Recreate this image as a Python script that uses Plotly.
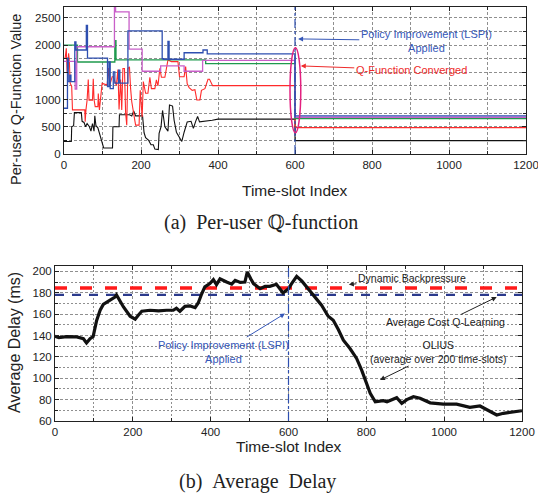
import plotly.graph_objects as go

W, H = 538, 497

# ---------------- Data: (a) Per-user Q-function ----------------
blue_x = [0, 9, 11, 15, 18, 28, 31, 58, 61, 113, 117, 120, 128, 132, 142, 145, 166, 255, 258, 270, 273, 312, 361, 372, 600, 1200]
blue_y = [840, 1760, 1330, 1450, 1330, 2060, 1910, 2360, 1760, 1240, 1690, 1200, 1510, 1300, 1540, 1300, 2260, 1750, 1740, 2070, 1740, 1860, 1910, 1840, 700, 700]

magenta_x = [0, 29, 33, 131, 134, 169, 203, 251, 312, 360, 600, 1200]
magenta_y = [1700, 1190, 1970, 2700, 2610, 1925, 1520, 1620, 1520, 1720, 675, 675]

green_x = [0, 35, 132, 135, 368, 600, 1200]
green_y = [2000, 1690, 2080, 1730, 1660, 650, 650]

black_x = [0, 19, 20, 25, 27, 45, 47, 52, 56, 60, 66, 70, 74, 78, 80, 83, 88, 92, 96, 100, 103, 126, 127, 143, 144, 170, 176, 181,
           186, 204, 208, 212, 220, 226, 232, 236, 245, 247, 252, 256, 262, 270, 274, 282, 286, 292, 300, 306, 312, 320, 330, 336,
           342, 347, 352, 372, 385, 400, 600, 600, 1200]
black_y = [230, 230, 500, 520, 760, 760, 600, 580, 500, 560, 500, 420, 560, 420, 700, 520, 480, 380, 250, 180, 110, 110, 500, 500,
           720, 720, 700, 790, 700, 700, 390, 300, 250, 170, 170, 90, 80, 380, 500, 800, 500, 420, 900, 880, 620, 400, 300, 230,
           400, 590, 600, 470, 600, 690, 590, 600, 620, 640, 640, 245, 245]

red_x = [0, 3, 6, 8, 10, 12, 14, 16, 20, 22, 54, 55, 57, 60, 63, 65, 74, 76, 78, 80, 81, 88, 89, 92, 99, 112, 116, 119, 125,
         128, 134, 136, 140, 143, 147, 150, 153, 157, 160, 163, 166, 170, 173, 176, 182, 186, 195, 198, 203, 206, 212, 218,
         223, 227, 236, 240, 244, 249, 253, 262, 270, 279, 296, 300, 312, 316, 320, 325, 333, 340, 345, 353, 357, 366, 374,
         378, 386, 600, 600, 1200]
red_y = [1760, 1760, 1940, 1510, 1560, 1850, 1700, 1300, 1240, 810, 810, 594, 810, 990, 1370, 990, 990, 1380, 1000, 870, 870,
         870, 1110, 810, 1300, 1265, 1580, 1265, 1420, 1420, 1260, 1260, 1550, 820, 1370, 810, 1570, 1570, 760, 530, 1570, 1600,
         1200, 960, 700, 530, 530, 1170, 680, 1330, 1115, 1115, 1410, 1200, 1200, 1360, 1250, 1575, 1410, 1410, 1728, 1697,
         1697, 1420, 1420, 1605, 1290, 1220, 1170, 1180, 993, 993, 1170, 1200, 1373, 1373, 1256, 1256, 484, 484]

# ---------------- Data: (b) Average delay ----------------
olius_x = [0, 10, 30, 56, 73, 81, 90, 98, 107, 116, 124, 133, 141, 154, 158, 163, 176, 193, 206, 214, 223, 244, 266, 287, 304,
           312, 321, 334, 347, 360, 368, 377, 385, 398, 407, 415, 424, 441, 454, 463, 476, 488, 494, 503, 510, 527, 540, 552,
           569, 586, 600, 608, 621, 634, 647, 664, 685, 702, 715, 728, 741, 758, 775, 788, 801, 810, 823, 844, 853, 878, 891,
           904, 921, 938, 964, 998, 1032, 1066, 1092, 1118, 1135, 1152, 1178, 1200]
olius_y = [139.3, 138, 139, 138.7, 137, 133, 137, 139, 154, 163.6, 169, 171, 173, 176, 178, 174.5, 166.7, 158, 155.2, 159,
           162.7, 163.6, 163, 163.6, 163.6, 165.5, 162.7, 167.3, 167.6, 166, 170.4, 179, 185.4, 188.5, 192.2, 187.6, 193,
           190, 188, 191.6, 189.6, 190, 199.4, 193, 188.5, 183.8, 186, 186, 187.9, 179.8, 183.8, 188.5, 195.3, 191, 185.4,
           177.6, 168.3, 158, 154.3, 145.6, 135.6, 127.8, 118.5, 107.6, 95.2, 85.8, 78, 79, 78, 81.8, 76.5, 80, 82.7, 81.3,
           77, 75.8, 75.8, 72.7, 74, 68.7, 65.6, 67.2, 68.7, 69.6]
backpressure_value = 184.5
qlearning_value = 178
lspi_time = 600
x_span = [0, 1200]

FONT = "Liberation Sans, Arial, sans-serif"
SERIF = "Liberation Serif, DejaVu Serif, Times New Roman, serif"
NB = "\u00a0"

fig = go.Figure()

def px_x(p):
    return p / W

def px_y(p):
    return 1 - p / H

# top traces
fig.add_trace(go.Scatter(x=black_x, y=black_y, mode="lines", line=dict(color="#111111", width=1.1), xaxis="x", yaxis="y"))
fig.add_trace(go.Scatter(x=red_x, y=red_y, mode="lines", line=dict(color="#ff2b2b", width=1.1), xaxis="x", yaxis="y"))
fig.add_trace(go.Scatter(x=green_x, y=green_y, mode="lines", line=dict(color="#1f9a4e", width=1.3, shape="hv"), xaxis="x", yaxis="y"))
fig.add_trace(go.Scatter(x=magenta_x, y=magenta_y, mode="lines", line=dict(color="#c95fc9", width=1.3, shape="hv"), xaxis="x", yaxis="y"))
fig.add_trace(go.Scatter(x=blue_x, y=blue_y, mode="lines", line=dict(color="#2e4fb0", width=1.3, shape="hv"), xaxis="x", yaxis="y"))

# bottom traces
fig.add_trace(go.Scatter(x=x_span, y=[backpressure_value] * 2, mode="lines",
                         line=dict(color="#ff1a1a", width=3.5, dash="12px,13px"), xaxis="x2", yaxis="y2"))
fig.add_trace(go.Scatter(x=x_span, y=[qlearning_value] * 2, mode="lines",
                         line=dict(color="#2b3a8c", width=2.2, dash="9px,8px"), xaxis="x2", yaxis="y2"))
fig.add_trace(go.Scatter(x=olius_x, y=olius_y, mode="lines", line=dict(color="#111111", width=3.2), xaxis="x2", yaxis="y2"))

# vertical LSPI lines
fig.add_shape(type="line", xref="x", yref="paper", x0=lspi_time, x1=lspi_time, y0=px_y(154), y1=px_y(7),
              line=dict(color="#2e4fb0", width=1.2, dash="dashdot"))
fig.add_shape(type="line", xref="x2", yref="paper", x0=lspi_time, x1=lspi_time, y0=px_y(421), y1=px_y(266),
              line=dict(color="#2e4fb0", width=1.2, dash="dashdot"))
# ellipse
fig.add_shape(type="circle", xref="x", yref="y", x0=587, x1=615, y0=390, y1=1950,
              line=dict(color="#e3207f", width=1.5))

axis_common = dict(showline=True, linecolor="#222222", linewidth=1, mirror="ticks", ticks="inside", ticklen=4,
                   tickcolor="#222222", showgrid=True, gridcolor="#8f8f8f", griddash="3px,2px", gridwidth=0.7,
                   zeroline=False, automargin=False, ticklabeloverflow="allow",
                   tickfont=dict(family=FONT, size=11.5, color="#222222"))

fig.update_layout(
    width=W, height=H, margin=dict(l=0, r=0, t=0, b=0, autoexpand=False), showlegend=False,
    paper_bgcolor="white", plot_bgcolor="white",
    xaxis=dict(domain=[px_x(64), px_x(526)], range=[0, 1200], dtick=200, anchor="y",
               minor=dict(dtick=100, showgrid=True, gridcolor="#8f8f8f", griddash="3px,2px", gridwidth=0.7,
                          ticks="inside", ticklen=3, tickcolor="#222222"), **axis_common),
    yaxis=dict(domain=[px_y(154), px_y(7)], range=[0, 2700], dtick=500, anchor="x",
               minor=dict(dtick=250, showgrid=True, gridcolor="#8f8f8f", griddash="3px,2px", gridwidth=0.7,
                          ticks="inside", ticklen=3, tickcolor="#222222"), **axis_common),
    xaxis2=dict(domain=[px_x(55), px_x(522)], range=[0, 1200], dtick=200, anchor="y2",
                minor=dict(dtick=100, showgrid=True, gridcolor="#8f8f8f", griddash="2px,2px", gridwidth=0.7,
                           ticks="inside", ticklen=3, tickcolor="#222222"), **axis_common),
    yaxis2=dict(domain=[px_y(421), px_y(266)], range=[60, 205], dtick=20, anchor="x2",
                minor=dict(dtick=10, showgrid=True, gridcolor="#8f8f8f", griddash="2px,2px", gridwidth=0.7,
                           ticks="inside", ticklen=3, tickcolor="#222222"), **axis_common),
)

ann = []
# axis titles
ann.append(dict(text="Per-user Q-Function Value", x=px_x(16), y=px_y(100), textangle=-90,
                font=dict(family=FONT, size=14.5, color="#222222")))
ann.append(dict(text="Time-slot Index", x=px_x(295), y=px_y(190),
                font=dict(family=FONT, size=15.5, color="#222222")))
ann.append(dict(text="Average Delay (ms)", x=px_x(14), y=px_y(343), textangle=-90,
                font=dict(family=FONT, size=16, color="#222222")))
ann.append(dict(text="Time-slot Index", x=px_x(289), y=px_y(446),
                font=dict(family=FONT, size=15.5, color="#222222")))
# captions
ann.append(dict(text="(a)" + NB + NB + "Per-user \u211a-function", x=px_x(261), y=px_y(223),
                font=dict(family=SERIF, size=20, color="#222222")))
ann.append(dict(text="(b)" + NB + NB + "Average" + NB + NB + "Delay", x=px_x(257), y=px_y(481),
                font=dict(family=SERIF, size=20, color="#222222")))
for a in ann:
    a.update(xref="paper", yref="paper", showarrow=False, xanchor="center", yanchor="middle")

# callouts
blue_txt = "#3557b8"
callouts = [
    dict(text="Policy Improvement (LSPI)<br>Applied", xref="x", yref="y", axref="x", ayref="y",
         x=608, y=2114, ax=941, ay=2080, font=dict(family=FONT, size=11, color=blue_txt), arrowcolor=blue_txt),
    dict(text="Q-Function Converged", xref="x", yref="y", axref="x", ayref="y",
         x=615, y=1618, ax=902, ay=1544, font=dict(family=FONT, size=11, color="#ee2b2b"), arrowcolor="#ee2b2b"),
    dict(text="Dynamic Backpressure", xref="x2", yref="y2", axref="x2", ayref="y2",
         x=755, y=187.6, ax=917, ay=193.8, font=dict(family=FONT, size=10.5, color="#222222"), arrowcolor="#222222"),
    dict(text="Average Cost Q-Learning", xref="x2", yref="y2", axref="x2", ayref="y2",
         x=1135, y=176, ax=1004, ay=152.7, font=dict(family=FONT, size=10.5, color="#222222"), arrowcolor="#222222"),
    dict(text="OLIUS<br>(average over 200 time-slots)", xref="x2", yref="y2", axref="x2", ayref="y2",
         x=835, y=98.3, ax=985, ay=125, font=dict(family=FONT, size=10.5, color="#222222"), arrowcolor="#222222"),
    dict(text="Policy Improvement (LSPI)<br>Applied", xref="x2", yref="y2", axref="x2", ayref="y2",
         x=591, y=160.5, ax=432, ay=125, font=dict(family=FONT, size=11, color=blue_txt), arrowcolor=blue_txt),
]
for c in callouts:
    c.update(showarrow=True, arrowhead=2, arrowsize=1, arrowwidth=1, standoff=0)
    ann.append(c)

fig.update_layout(annotations=ann)
fig.write_html("out.html", config={"displayModeBar": False},
               post_script="document.body.style.margin='0px';document.body.style.overflow='hidden';")
